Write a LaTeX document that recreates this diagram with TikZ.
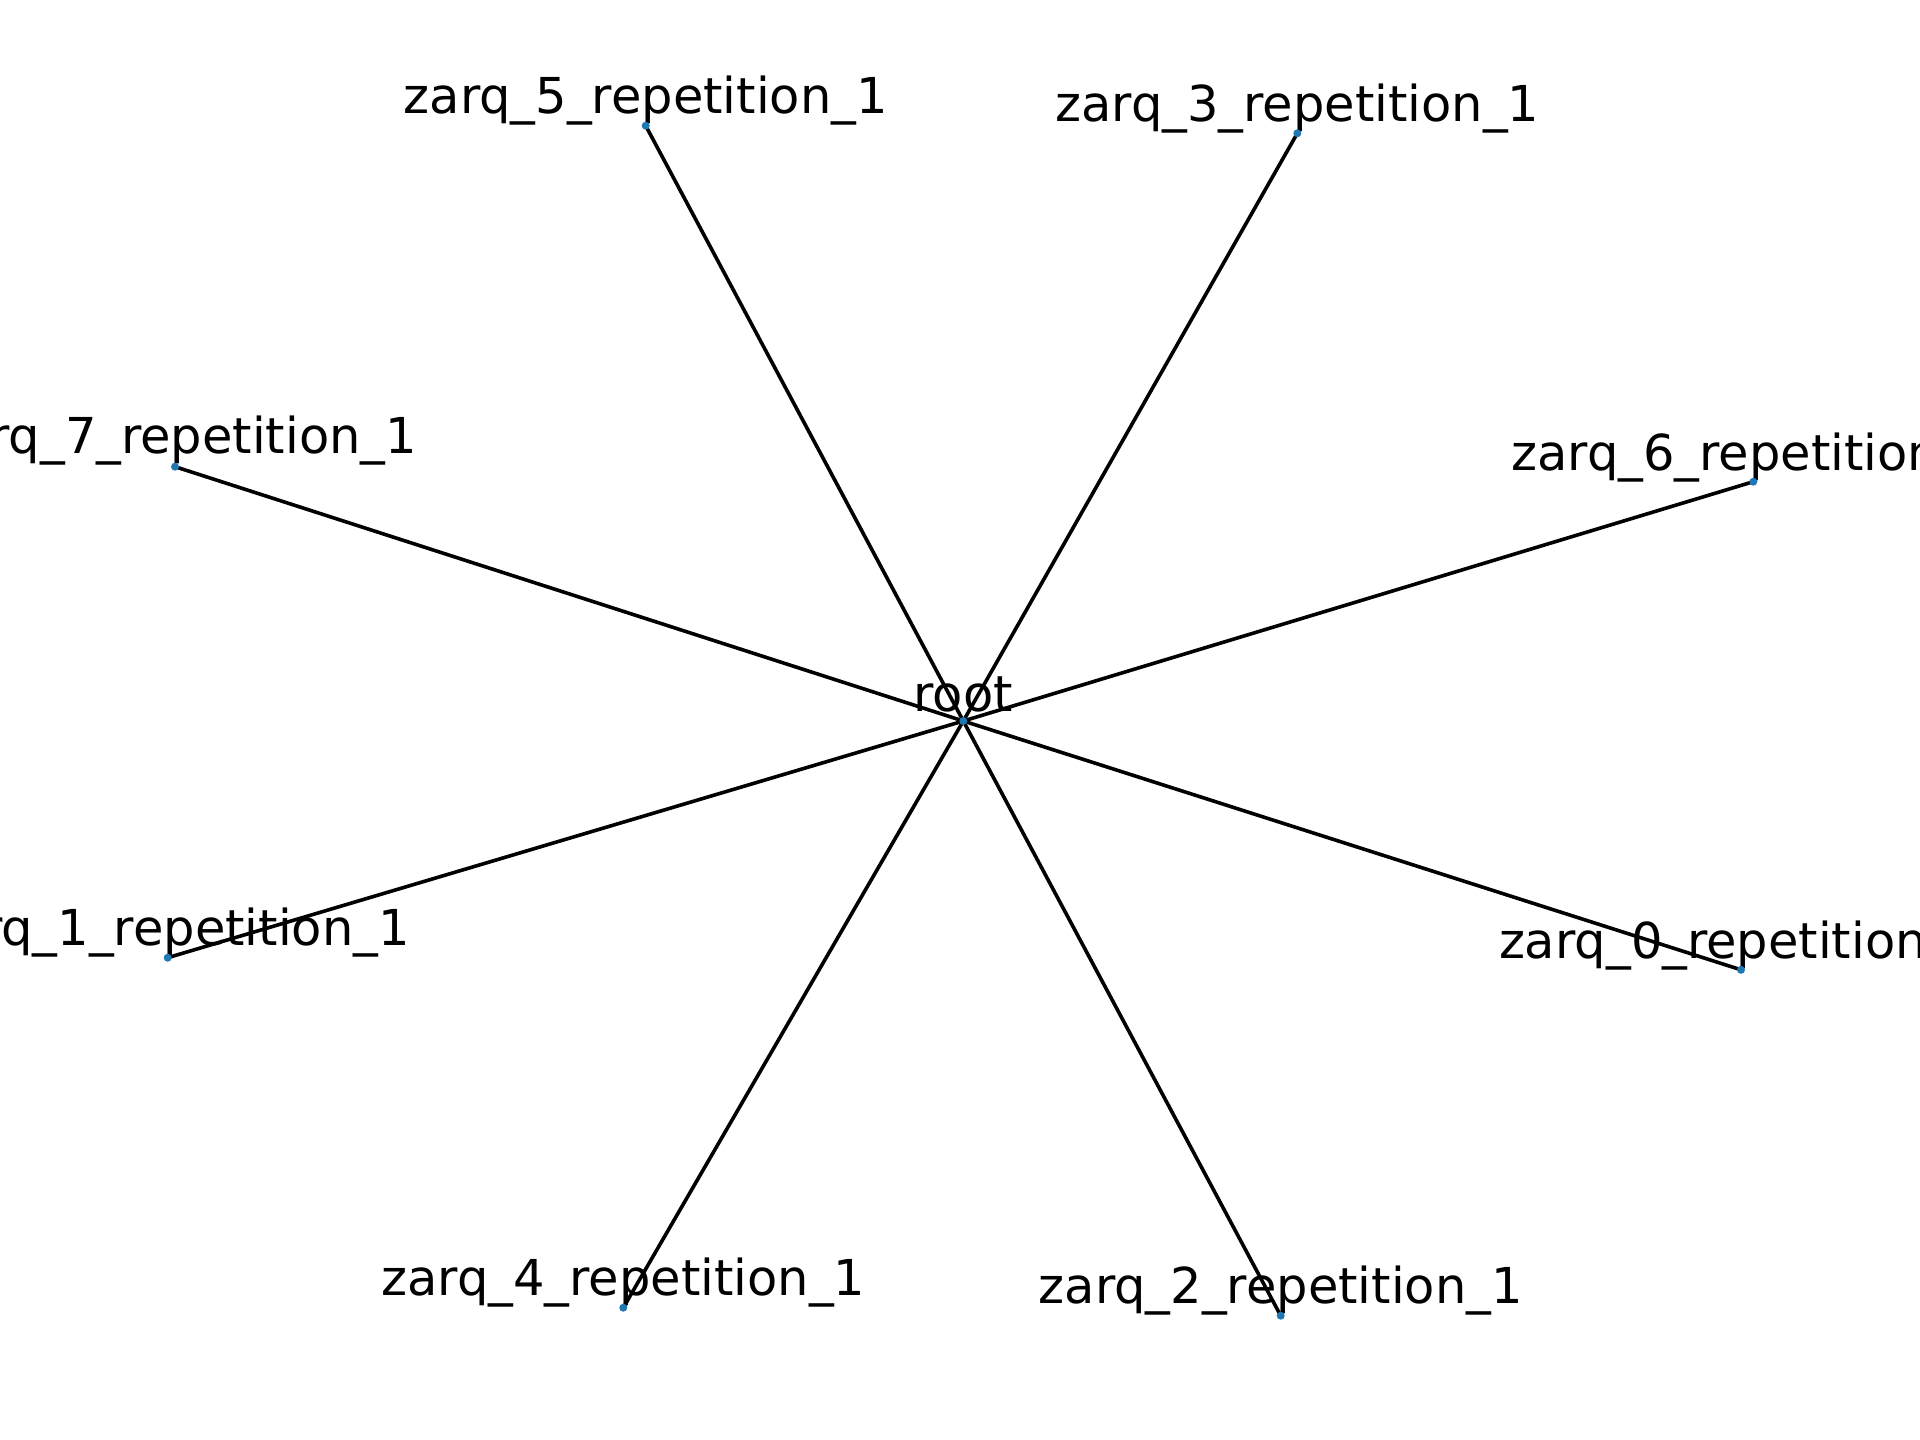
\documentclass[tikz,border=0pt]{standalone}
\usepackage{fontspec}
\setmainfont{DejaVu Sans}
\definecolor{nodeblue}{HTML}{1F77B4}
\tikzset{
  dot/.style={circle, fill=nodeblue, draw=none, inner sep=0pt, minimum size=8pt},
  lbl/.style={anchor=base, inner sep=0pt, outer sep=0pt, font=\fontsize{49.5}{58}\selectfont, text=black},
  edge/.style={draw=black, line width=3.6pt}
}
\begin{document}
\begin{tikzpicture}[x=1pt, y=-1pt]
\useasboundingbox (0,0) rectangle (1920,1440);
\clip (0,0) rectangle (1920,1440);
% node centres
\coordinate (root) at (963.3,721);
\coordinate (z0) at (1741,969.8);
\coordinate (z1) at (167.7,957.7);
\coordinate (z2) at (1280.7,1315.7);
\coordinate (z3) at (1297.3,133.3);
\coordinate (z4) at (623.3,1307.7);
\coordinate (z5) at (645.7,125.7);
\coordinate (z6) at (1753.3,481.7);
\coordinate (z7) at (175,466.7);
% edges
\foreach \n in {z0,z1,z2,z3,z4,z5,z6,z7}
  \draw[edge] (root) -- (\n);
% labels
\node[lbl] (lroot) at ([yshift=10]root) {root};
\node[lbl] (lz0) at ([yshift=11]z0) {zarq\_0\_repetition\_1};
\node[lbl] (lz1) at ([yshift=12]z1) {zarq\_1\_repetition\_1};
\node[lbl] (lz2) at ([yshift=12]z2) {zarq\_2\_repetition\_1};
\node[lbl] (lz3) at ([yshift=12]z3) {zarq\_3\_repetition\_1};
\node[lbl] (lz4) at ([yshift=12]z4) {zarq\_4\_repetition\_1};
\node[lbl] (lz5) at ([yshift=12]z5) {zarq\_5\_repetition\_1};
\node[lbl] (lz6) at ([yshift=11]z6) {zarq\_6\_repetition\_1};
\node[lbl] (lz7) at ([yshift=13]z7) {zarq\_7\_repetition\_1};
% dots
\node[dot] (droot) at (root) {};
\foreach \n in {z0,z1,z2,z3,z4,z5,z6,z7}
  \node[dot] (d\n) at (\n) {};
\end{tikzpicture}
\end{document}
